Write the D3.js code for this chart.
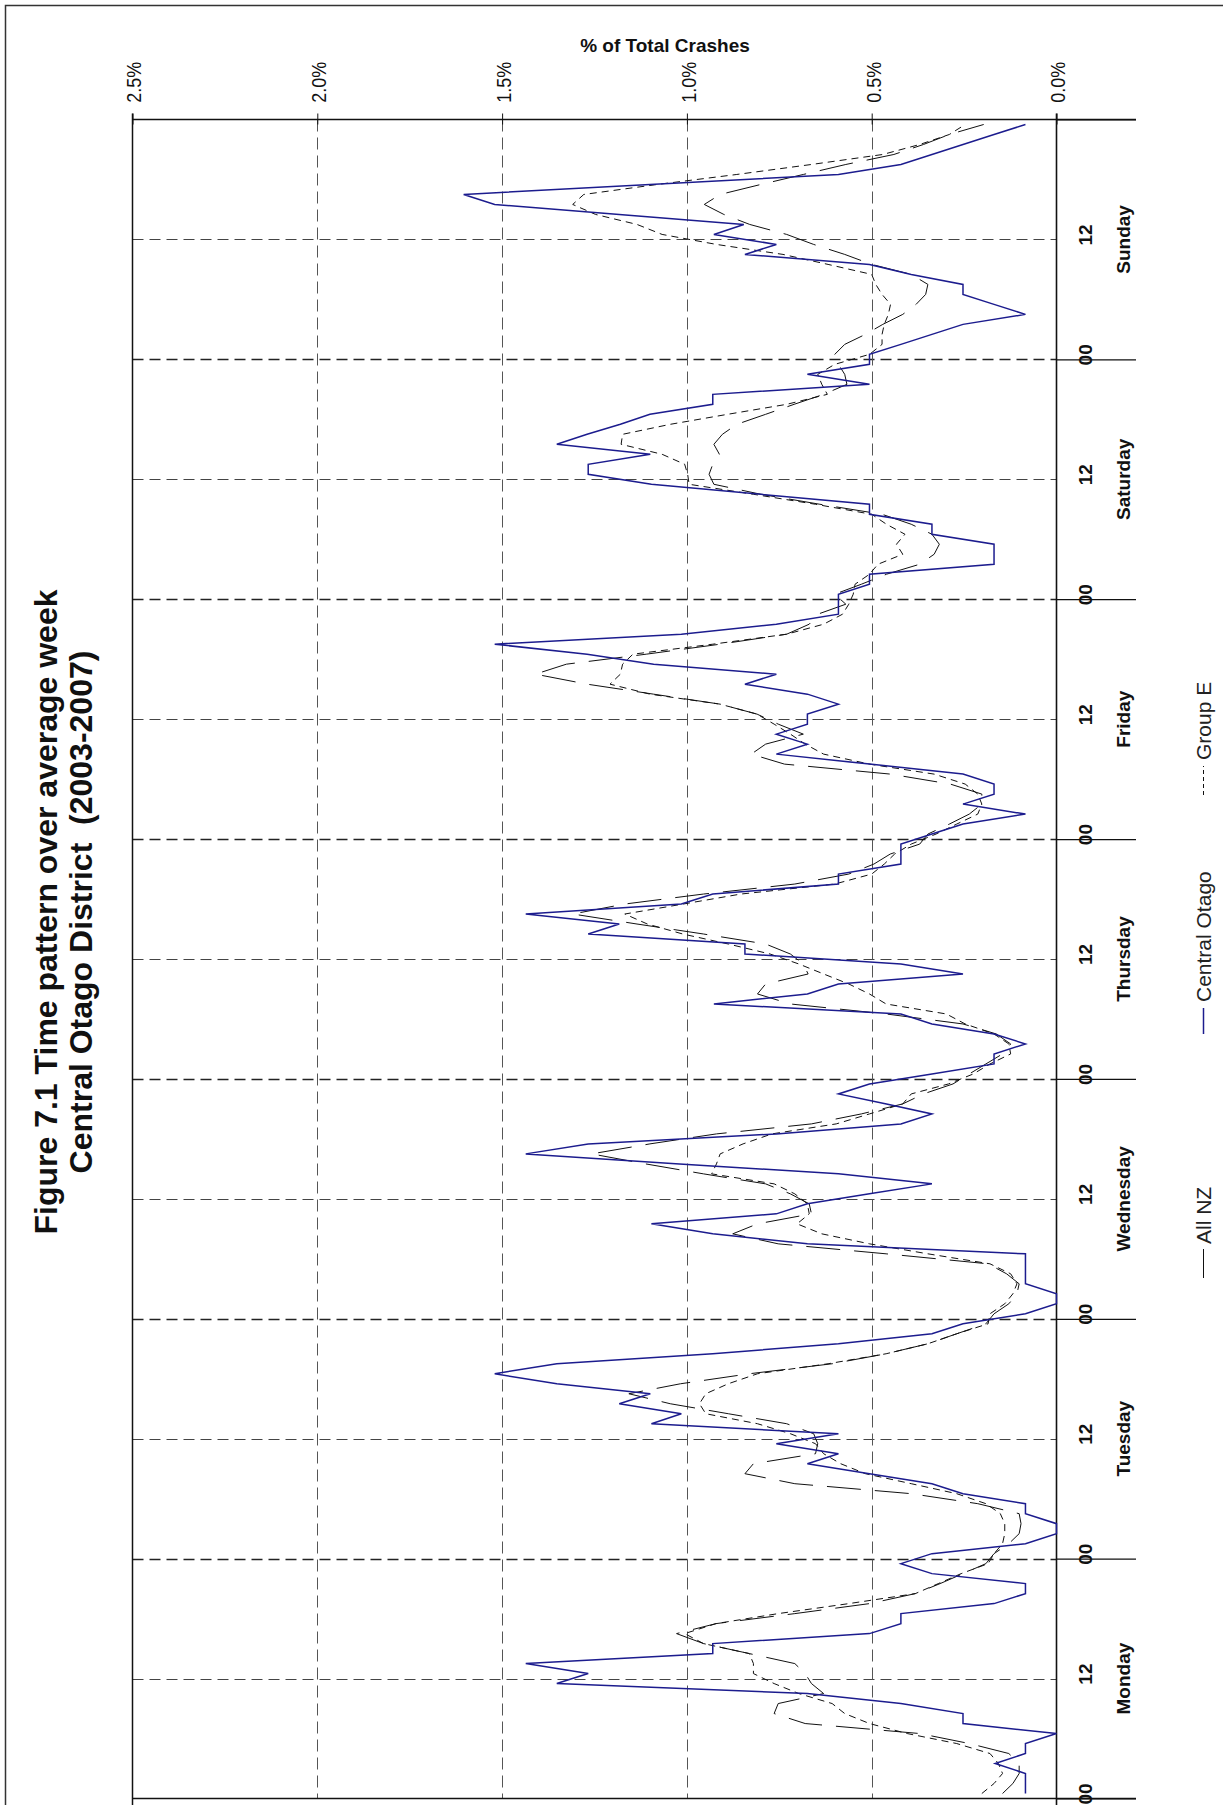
<!DOCTYPE html>
<html>
<head>
<meta charset="utf-8">
<script src="https://cdnjs.cloudflare.com/ajax/libs/d3/7.8.5/d3.min.js"></script>
<style>
  html, body { margin: 0; padding: 0; background: #fff; }
  svg { display: block; font-family: "Liberation Sans", Arial, sans-serif; }
</style>
</head>
<body>
<script>
// ---------------- data ----------------
const days = ["Monday", "Tuesday", "Wednesday", "Thursday", "Friday", "Saturday", "Sunday"];
const valueTicks = [0, 0.5, 1.0, 1.5, 2.0, 2.5];
const valueTickLabels = ["0.0%", "0.5%", "1.0%", "1.5%", "2.0%", "2.5%"];
const hourTickLabels = ["00", "12"];
const seriesNames = ["All NZ", "Central Otago", "Group E"];

// hourly % of total crashes, Monday 00h .. Sunday 23h
const centralOtago = [
  // Mon
  0.084,0.084,0.084,0.166,0.084,0.084,0.000,0.253,0.253,0.421,0.674,1.352,1.267,1.436,0.930,0.930,0.506,0.421,0.421,0.169,0.084,0.084,0.337,0.421,
  // Tue
  0.337,0.084,0.000,0.000,0.084,0.084,0.253,0.337,0.506,0.674,0.590,0.758,0.590,1.096,1.015,1.183,1.099,1.352,1.520,1.352,0.930,0.590,0.337,0.253,
  // Wed
  0.084,0.000,0.000,0.084,0.084,0.084,0.084,0.674,0.930,1.096,0.758,0.674,0.506,0.337,0.590,1.020,1.436,1.267,0.758,0.421,0.337,0.460,0.590,0.506,
  // Thu
  0.337,0.169,0.169,0.084,0.169,0.337,0.421,0.927,0.674,0.590,0.253,0.421,0.843,0.843,1.267,1.183,1.436,1.015,0.930,0.590,0.590,0.421,0.421,0.421,
  // Fri
  0.337,0.253,0.084,0.253,0.169,0.169,0.253,0.506,0.758,0.674,0.758,0.674,0.674,0.590,0.674,0.843,0.758,1.090,1.270,1.520,1.015,0.758,0.590,0.590,
  // Sat
  0.590,0.506,0.506,0.169,0.169,0.169,0.337,0.337,0.506,0.506,0.800,1.096,1.267,1.267,1.099,1.352,1.270,1.180,1.100,0.930,0.930,0.506,0.674,0.506,
  // Sun
  0.506,0.421,0.337,0.253,0.084,0.169,0.253,0.253,0.393,0.506,0.843,0.758,0.927,0.846,1.183,1.520,1.604,1.100,0.590,0.421,0.337,0.253,0.169,0.084
];

const allNZ = [
  // Mon
  0.146,0.118,0.101,0.101,0.129,0.236,0.370,0.680,0.764,0.753,0.630,0.663,0.680,0.708,0.831,0.955,1.028,0.921,0.708,0.506,0.382,0.315,0.253,0.191,
  // Tue
  0.169,0.129,0.101,0.096,0.101,0.213,0.393,0.708,0.843,0.820,0.652,0.646,0.657,0.730,0.888,1.045,1.157,1.017,0.831,0.607,0.461,0.348,0.270,0.191,
  // Wed
  0.169,0.129,0.107,0.101,0.135,0.185,0.461,0.753,0.876,0.809,0.663,0.669,0.720,0.787,0.955,1.112,1.258,1.100,0.920,0.663,0.528,0.416,0.360,0.280,
  // Thu
  0.236,0.191,0.146,0.124,0.163,0.253,0.461,0.720,0.809,0.787,0.672,0.685,0.720,0.787,0.955,1.135,1.309,1.168,0.955,0.708,0.562,0.494,0.450,0.370,
  // Fri
  0.348,0.290,0.236,0.202,0.202,0.287,0.449,0.736,0.826,0.787,0.685,0.753,0.810,0.910,1.090,1.270,1.410,1.326,1.110,0.910,0.730,0.669,0.646,0.570,
  // Sat
  0.600,0.528,0.460,0.370,0.331,0.317,0.337,0.393,0.472,0.640,0.800,0.927,0.940,0.930,0.912,0.927,0.904,0.865,0.787,0.710,0.630,0.567,0.573,0.590,
  // Sun
  0.600,0.573,0.517,0.470,0.416,0.380,0.354,0.348,0.393,0.500,0.573,0.657,0.730,0.830,0.900,0.953,0.910,0.800,0.685,0.570,0.440,0.360,0.290,0.197
];

const groupE = [
  // Mon
  0.202,0.169,0.146,0.157,0.180,0.270,0.404,0.506,0.573,0.607,0.697,0.764,0.820,0.820,0.831,0.955,1.006,0.921,0.753,0.562,0.382,0.320,0.258,0.185,
  // Tue
  0.169,0.146,0.140,0.140,0.152,0.191,0.270,0.393,0.517,0.584,0.630,0.652,0.720,0.809,0.949,0.966,0.949,0.888,0.809,0.618,0.461,0.348,0.270,0.185,
  // Wed
  0.180,0.140,0.118,0.107,0.124,0.180,0.348,0.506,0.635,0.702,0.669,0.674,0.708,0.764,0.933,0.920,0.910,0.848,0.770,0.596,0.506,0.416,0.393,0.292,
  // Thu
  0.225,0.180,0.124,0.129,0.169,0.247,0.298,0.461,0.506,0.562,0.630,0.697,0.775,0.888,1.011,1.107,1.168,1.010,0.854,0.600,0.500,0.466,0.438,0.393,
  // Fri
  0.326,0.270,0.213,0.202,0.213,0.247,0.331,0.506,0.630,0.680,0.720,0.764,0.810,0.910,1.100,1.208,1.180,1.174,1.146,0.930,0.730,0.630,0.579,0.562,
  // Sat
  0.550,0.545,0.506,0.483,0.416,0.433,0.410,0.460,0.500,0.652,0.820,0.994,0.998,1.006,1.067,1.178,1.174,1.045,0.890,0.730,0.620,0.635,0.646,0.600,
  // Sun
  0.506,0.472,0.472,0.466,0.455,0.449,0.472,0.489,0.500,0.618,0.740,0.920,1.067,1.135,1.247,1.309,1.279,1.080,0.865,0.663,0.470,0.370,0.290,0.247
];

// ---------------- layout ----------------
const W = 1223, H = 1805;
const plotLeft = 132.5, plotRight = 1056.5, plotTop = 119.5, plotBottom = 1798.5;
const tickRight = 1136;

const svg = d3.select("body").append("svg").attr("width", W).attr("height", H);

// outer frame
svg.append("rect").attr("x", 5.5).attr("y", 5.5).attr("width", 1400).attr("height", 2000)
  .attr("fill", "none").attr("stroke", "#333").attr("stroke-width", 1.5);

const x = d3.scaleLinear().domain([0, 2.5]).range([plotRight, plotLeft]);
const y = d3.scaleLinear().domain([0, 168]).range([plotBottom, plotTop]);

const hours12 = d3.range(12, 168, 12);
const dayStarts = d3.range(0, 168, 24);

// horizontal (time) gridlines
svg.append("g").selectAll("line").data(hours12).join("line")
  .attr("x1", plotLeft).attr("x2", plotRight)
  .attr("y1", d => Math.round(y(d)) + 0.5).attr("y2", d => Math.round(y(d)) + 0.5)
  .attr("stroke", d => d % 24 === 0 ? "#222" : "#444")
  .attr("stroke-width", d => d % 24 === 0 ? 1.3 : 1)
  .attr("stroke-dasharray", "11,6");

// vertical (value) gridlines
svg.append("g").selectAll("line").data(valueTicks.filter(v => v > 0 && v < 2.5)).join("line")
  .attr("x1", d => Math.round(x(d)) + 0.5).attr("x2", d => Math.round(x(d)) + 0.5)
  .attr("y1", plotTop).attr("y2", plotBottom)
  .attr("stroke", "#555").attr("stroke-width", 1)
  .attr("stroke-dasharray", "12,6");

// left frame & bottom line
svg.append("line").attr("x1", plotLeft).attr("x2", plotLeft).attr("y1", plotTop - 6).attr("y2", H + 5)
  .attr("stroke", "#111").attr("stroke-width", 1.5);
svg.append("line").attr("x1", plotLeft).attr("x2", tickRight).attr("y1", plotBottom).attr("y2", plotBottom)
  .attr("stroke", "#111").attr("stroke-width", 1.5);

// top value axis
const topAxis = d3.axisTop(x).tickValues(valueTicks)
  .tickFormat((d, i) => valueTickLabels[valueTicks.indexOf(d)])
  .tickSizeInner(6).tickSizeOuter(0);
const gTop = svg.append("g").attr("transform", `translate(0,${plotTop})`).call(topAxis);
gTop.select(".domain").remove();
gTop.selectAll(".tick line").attr("stroke", "#111").attr("y2", 5).attr("y1", -6);
gTop.selectAll(".tick text")
  .attr("transform", "rotate(-90)")
  .attr("x", 0).attr("y", 0).attr("dy", 0)
  .attr("text-anchor", "start")
  .attr("transform", function (d) { return `translate(8.3,${102.7 - plotTop}) rotate(-90)`; })
  .attr("font-size", 21).attr("fill", "#111")
  .attr("textLength", 41).attr("lengthAdjust", "spacingAndGlyphs")
  .attr("font-family", "Liberation Sans, Arial, sans-serif");
svg.append("line").attr("x1", plotLeft).attr("x2", tickRight).attr("y1", plotTop).attr("y2", plotTop)
  .attr("stroke", "#111").attr("stroke-width", 1.6);

svg.append("text").attr("x", 665).attr("y", 52).attr("text-anchor", "middle")
  .attr("font-size", 19).attr("font-weight", "bold").attr("fill", "#111")
  .text("% of Total Crashes");

// right time axis
svg.append("line").attr("x1", plotRight).attr("x2", plotRight).attr("y1", plotTop - 6).attr("y2", H + 5)
  .attr("stroke", "#111").attr("stroke-width", 1.6);

const rightAxis = d3.axisRight(y).tickValues(d3.range(0, 169, 12))
  .tickFormat(d => (d % 24 === 0 ? hourTickLabels[0] : hourTickLabels[1]))
  .tickSizeInner(0).tickSizeOuter(0);
const gRight = svg.append("g").attr("transform", `translate(${plotRight},0)`).call(rightAxis);
gRight.select(".domain").remove();
gRight.selectAll(".tick line")
  .attr("x2", d => (d % 24 === 0 ? tickRight - plotRight : 0))
  .attr("stroke", "#111").attr("stroke-width", 1.2);
gRight.selectAll(".tick text")
  .attr("x", 0).attr("dy", 0).attr("text-anchor", "middle")
  .attr("transform", "translate(35.5,-5) rotate(-90)")
  .attr("font-size", 19).attr("font-weight", "bold").attr("fill", "#111")
  .style("display", d => d === 168 ? "none" : null);

// day labels
svg.append("g").selectAll("text").data(days).join("text")
  .attr("transform", (d, i) => `translate(1129.5,${y(i * 24 + 12)}) rotate(-90)`)
  .attr("text-anchor", "middle")
  .attr("font-size", 19).attr("font-weight", "bold").attr("fill", "#111")
  .text(d => d);

// series lines
const line = d3.line().x(d => x(d)).y((d, i) => y(i + 0.5));

svg.append("path").datum(groupE).attr("d", line)
  .attr("fill", "none").attr("stroke", "#111").attr("stroke-width", 1)
  .attr("stroke-dasharray", "7,5");
svg.append("path").datum(allNZ).attr("d", line)
  .attr("fill", "none").attr("stroke", "#111").attr("stroke-width", 1)
  .attr("stroke-dasharray", "34,14");
svg.append("path").datum(centralOtago).attr("d", line)
  .attr("fill", "none").attr("stroke", "#1c1c8e").attr("stroke-width", 1.5)
  .attr("stroke-linejoin", "miter");

// title
const title = svg.append("g").attr("font-weight", "bold").attr("fill", "#111").attr("font-size", 32);
title.append("text").attr("transform", "translate(57,912) rotate(-90)").attr("text-anchor", "middle")
  .text("Figure 7.1 Time pattern over average week");
title.append("text").attr("transform", "translate(92,912) rotate(-90)").attr("text-anchor", "middle")
  .attr("xml:space", "preserve").style("white-space", "pre")
  .text("Central Otago District  (2003-2007)");

// legend
const legendItems = [
  { name: seriesNames[0], y0: 1278, y1: 1249, textY: 1244, stroke: "#111", dash: null, width: 1 },
  { name: seriesNames[1], y0: 1034, y1: 1008, textY: 1002, stroke: "#1c1c8e", dash: null, width: 1.5 },
  { name: seriesNames[2], y0: 795, y1: 766, textY: 760, stroke: "#111", dash: "4,3", width: 1 }
];
const lg = svg.append("g");
legendItems.forEach(it => {
  lg.append("line").attr("x1", 1203.5).attr("x2", 1203.5).attr("y1", it.y0).attr("y2", it.y1)
    .attr("stroke", it.stroke).attr("stroke-width", it.width)
    .attr("stroke-dasharray", it.dash);
  lg.append("text").attr("transform", `translate(1211,${it.textY}) rotate(-90)`)
    .attr("text-anchor", "start").attr("font-size", 21).attr("fill", "#222")
    .text(it.name);
});
</script>
</body>
</html>
